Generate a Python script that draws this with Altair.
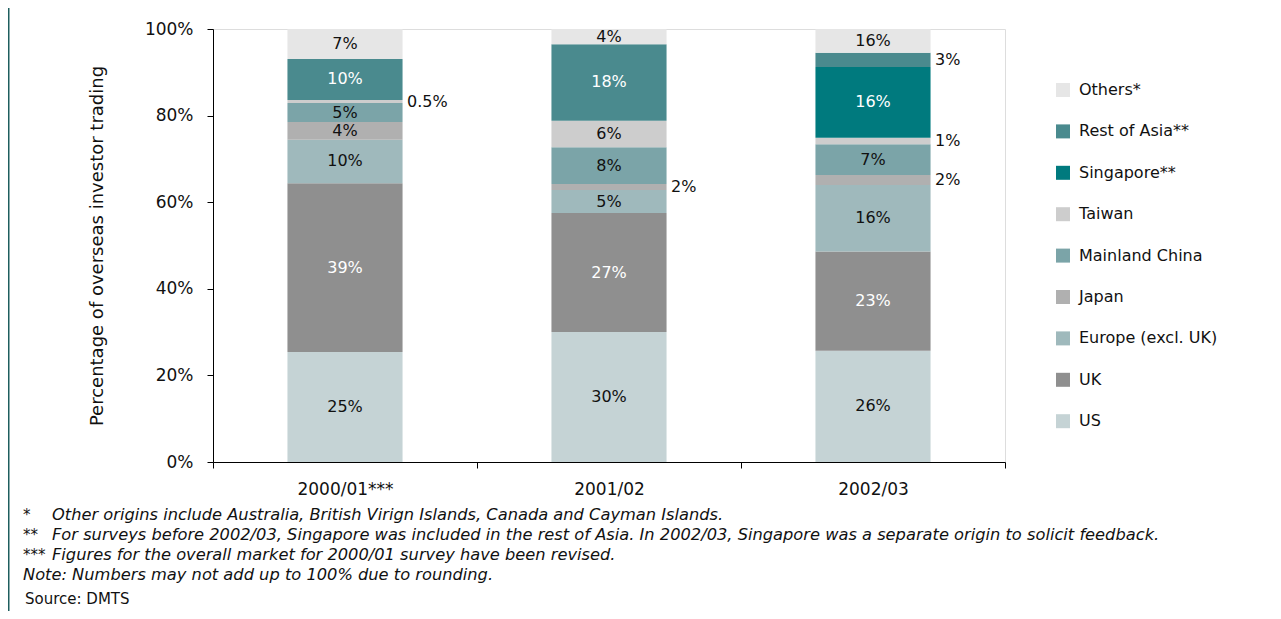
import altair as alt
import pandas as pd

FONT = "DejaVu Sans"

periods = ["2000/01***", "2001/02", "2002/03"]

# stacking order, bottom -> top
series = ["US", "UK", "Europe (excl. UK)", "Japan", "Mainland China",
          "Taiwan", "Singapore**", "Rest of Asia**", "Others*"]
colors = ["#C5D3D5", "#8F8F8F", "#9FB9BC", "#B0B0B0", "#7BA4A8",
          "#CDCDCD", "#007A7E", "#4A8A8E", "#E6E6E6"]

# segment sizes (percent), per period, in stacking order
values_2000 = [25.4, 39.0, 10.0, 4.1, 4.4, 0.7, 0.0, 9.5, 6.9]
values_2001 = [30.0, 27.5, 5.3, 1.4, 8.5, 6.1, 0.0, 17.7, 3.5]
values_2002 = [25.7, 22.9, 15.4, 2.3, 7.1, 1.5, 16.3, 3.3, 5.5]

# printed labels, per period, in stacking order
labels_2000 = ["25%", "39%", "10%", "4%", "5%", "0.5%", "", "10%", "7%"]
labels_2001 = ["30%", "27%", "5%", "2%", "8%", "6%", "", "18%", "4%"]
labels_2002 = ["26%", "23%", "16%", "2%", "7%", "1%", "16%", "3%", "16%"]

# labels printed beside the bar rather than inside it
outside_labels = [("2000/01***", "Taiwan"), ("2001/02", "Japan"),
                  ("2002/03", "Rest of Asia**"), ("2002/03", "Taiwan"),
                  ("2002/03", "Japan")]
white_text_series = ["UK", "Singapore**", "Rest of Asia**"]

footnote_marks = ["*", "**", "***"]
footnote_texts = [
    "Other origins include Australia, British Virign Islands, Canada and Cayman Islands.",
    "For surveys before 2002/03, Singapore was included in the rest of Asia. In 2002/03, Singapore was a separate origin to solicit feedback.",
    "Figures for the overall market for 2000/01 survey have been revised.",
]
note_text = "Note: Numbers may not add up to 100% due to rounding."
source_text = "Source: DMTS"
y_title = "Percentage of overseas investor trading"

rows = []
for p, vals, labs in zip(periods, [values_2000, values_2001, values_2002],
                         [labels_2000, labels_2001, labels_2002]):
    cum = 0.0
    for s, v, l in zip(series, vals, labs):
        rows.append({
            "period": p, "series": s, "y0": cum, "y1": cum + v,
            "mid": cum + v / 2, "label": l,
            "pos": "out" if (p, s) in outside_labels else "in",
            "tcol": "#ffffff" if s in white_text_series else "#111111",
        })
        cum += v
df = pd.DataFrame(rows)

W, H = 792, 433

x_enc = alt.X(
    "period:N", sort=periods,
    scale=alt.Scale(paddingInner=0, paddingOuter=0),
    axis=alt.Axis(title=None, labelAngle=0, tickBand="extent", tickSize=6,
                  labelPadding=13, labelFontSize=17, labelFont=FONT,
                  labelColor="#111111", domainColor="#000000",
                  tickColor="#000000", domainWidth=1, tickWidth=1),
)
y_axis = alt.Axis(values=[0, 20, 40, 60, 80, 100],
                  labelExpr="datum.value + '%'", grid=False, tickSize=6,
                  labelPadding=14, labelFontSize=17, labelFont=FONT,
                  labelColor="#111111", domainColor="#000000",
                  tickColor="#000000", title=y_title, titleFont=FONT,
                  titleFontSize=18, titleFontWeight="normal",
                  titleColor="#111111", titlePadding=38)
y_scale = alt.Scale(domain=[0, 100], nice=False, zero=True)

legend = alt.Legend(title=None, orient="none", legendX=842, legendY=53,
                    direction="vertical", symbolType="square",
                    symbolSize=196, symbolStrokeWidth=0, labelFont=FONT,
                    labelFontSize=16, labelColor="#111111", labelOffset=8,
                    rowPadding=25.4, labelLimit=300)

bars = alt.Chart(df).mark_bar(width={"band": 0.436}).encode(
    x=x_enc,
    y=alt.Y("y0:Q", scale=y_scale, axis=y_axis),
    y2="y1:Q",
    color=alt.Color("series:N", scale=alt.Scale(domain=series[::-1],
                                                range=colors[::-1]),
                    legend=legend),
)

inside = alt.Chart(df).transform_filter(
    "datum.pos == 'in' && datum.label != ''"
).mark_text(font=FONT, fontSize=16, baseline="middle").encode(
    x=x_enc,
    y=alt.Y("mid:Q", scale=y_scale, axis=y_axis),
    text="label:N",
    color=alt.Color("tcol:N", scale=None),
)

outside = alt.Chart(df).transform_filter("datum.pos == 'out'").mark_text(
    font=FONT, fontSize=16, baseline="middle", align="left", dx=62,
    color="#111111"
).encode(
    x=x_enc,
    y=alt.Y("mid:Q", scale=y_scale, axis=y_axis),
    text="label:N",
)

FN = 16.25
one = alt.Data(values=[{}])
notes = []
for i, (m, t) in enumerate(zip(footnote_marks, footnote_texts)):
    notes.append(alt.Chart(one).mark_text(
        font=FONT, fontSize=15, align="left", baseline="middle",
        color="#111111").encode(x=alt.value(-190), y=alt.value(486 + 20 * i),
                                text=alt.value(m)))
    notes.append(alt.Chart(one).mark_text(
        font=FONT, fontSize=FN, fontStyle="italic", align="left",
        baseline="middle", color="#111111").encode(
            x=alt.value(-161), y=alt.value(486 + 20 * i), text=alt.value(t)))
notes.append(alt.Chart(one).mark_text(
    font=FONT, fontSize=FN, fontStyle="italic", align="left",
    baseline="middle", color="#111111").encode(
        x=alt.value(-190), y=alt.value(546), text=alt.value(note_text)))
notes.append(alt.Chart(one).mark_text(
    font=FONT, fontSize=15, align="left", baseline="middle",
    color="#111111").encode(
        x=alt.value(-188), y=alt.value(570), text=alt.value(source_text)))

border = alt.Chart(one).mark_rule(color="#1E5E5E", strokeWidth=2).encode(
    x=alt.value(-204.5), y=alt.value(-21), y2=alt.value(600))

chart = alt.layer(bars, inside, outside, border, *notes).properties(
    width=W, height=H,
    autosize=alt.AutoSizeParams(type="none"),
    padding={"left": 205, "top": 21, "right": 268, "bottom": 149},
).configure_view(stroke=None).configure(font=FONT)

chart.save("out.html", embed_options={"renderer": "svg", "actions": False})
